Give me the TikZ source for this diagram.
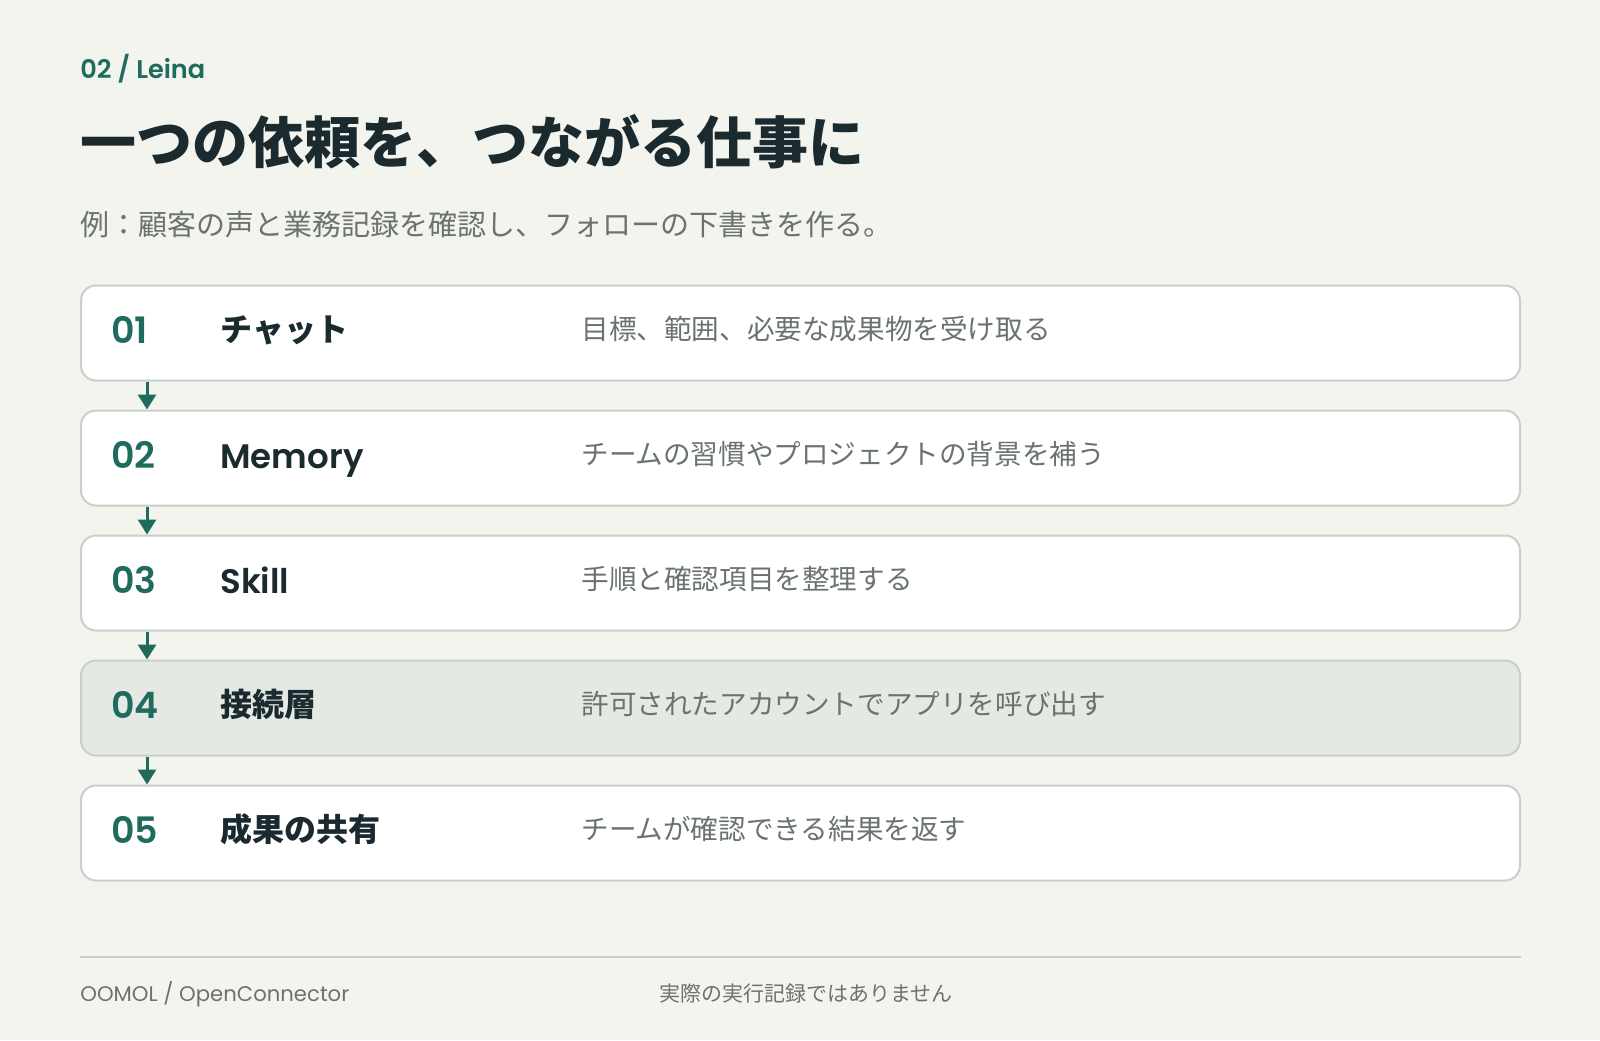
\documentclass[tikz,border=0pt]{standalone}
\usepackage{fontspec}
\usetikzlibrary{arrows.meta,positioning,calc}
\newfontfamily\jp{Noto Sans CJK JP}
\newfontfamily\lat{Poppins}[BoldFont={Poppins SemiBold}]
\definecolor{paper}{HTML}{F4F4EE}
\definecolor{leaf}{HTML}{1F6B5D}
\definecolor{ink}{HTML}{1B2A2F}
\definecolor{slate}{HTML}{6A7371}
\definecolor{rule}{HTML}{C8D0CC}
\definecolor{mist}{HTML}{E4E9E3}
\tikzset{
  card/.style={draw=rule,line width=1pt,fill=white,rounded corners=7.5pt,
    minimum width=719.5pt,minimum height=47.5pt,inner sep=0pt},
  num/.style={anchor=base west,inner sep=0pt,text=leaf,
    font={\lat\bfseries\fontsize{18.2pt}{20pt}\selectfont}},
  jname/.style={anchor=base west,inner sep=0pt,text=ink,
    font={\jp\bfseries\fontsize{16pt}{19pt}\selectfont}},
  lname/.style={anchor=base west,inner sep=0pt,text=ink,
    font={\lat\bfseries\fontsize{17pt}{20pt}\selectfont}},
  note/.style={anchor=base west,inner sep=0pt,text=slate,
    font={\jp\fontsize{13.8pt}{16pt}\selectfont}},
  flow/.style={leaf,line width=1.5pt,-{Triangle[width=9pt,length=7.5pt]}}
}
\begin{document}
\begin{tikzpicture}[x=0.5pt,y=-0.5pt]
\fill [paper] (0,0) rectangle (1600,1040);
\useasboundingbox (0,0) rectangle (1600,1040);
\node [anchor=base west,inner sep=0pt,text=leaf,
   font={\lat\bfseries\fontsize{12.8pt}{15pt}\selectfont}] (lead) at (80,78) {02 / Leina};
\node [anchor=base west,inner sep=0pt,text=ink,
   font={\jp\bfseries\fontsize{28pt}{32pt}\selectfont}] (title) at (80,163) {一つの依頼を、つながる仕事に};
\node [anchor=base west,inner sep=0pt,text=slate,
   font={\jp\fontsize{14.5pt}{17pt}\selectfont}] (sub) at (80,235) {例：顧客の声と業務記録を確認し、フォローの下書きを作る。};

\node [card] (s1) at (800.5,333) {};
\node [card] (s2) at (800.5,458) {};
\node [card] (s3) at (800.5,583) {};
\node [card,fill=mist] (s4) at (800.5,708) {};
\node [card] (s5) at (800.5,833) {};

\node [num] (n1) at ($(s1.west)+(31,10)$) {01};
\node [jname] (t1) at ($(s1.west)+(140,8)$) {チャット};
\node [note] (d1) at ($(s1.west)+(501,6)$) {目標、範囲、必要な成果物を受け取る};
\node [num] (n2) at ($(s2.west)+(31,10)$) {02};
\node [lname] (t2) at ($(s2.west)+(140,10)$) {Memory};
\node [note] (d2) at ($(s2.west)+(501,6)$) {チームの習慣やプロジェクトの背景を補う};
\node [num] (n3) at ($(s3.west)+(31,10)$) {03};
\node [lname] (t3) at ($(s3.west)+(140,10)$) {Skill};
\node [note] (d3) at ($(s3.west)+(501,6)$) {手順と確認項目を整理する};
\node [num] (n4) at ($(s4.west)+(31,10)$) {04};
\node [jname] (t4) at ($(s4.west)+(140,8)$) {接続層};
\node [note] (d4) at ($(s4.west)+(501,6)$) {許可されたアカウントでアプリを呼び出す};
\node [num] (n5) at ($(s5.west)+(31,10)$) {05};
\node [jname] (t5) at ($(s5.west)+(140,8)$) {成果の共有};
\node [note] (d5) at ($(s5.west)+(501,6)$) {チームが確認できる結果を返す};

\draw [flow] ($(s1.south west)+(67,0)$) -- ($(s2.north west)+(67,0)$);
\draw [flow] ($(s2.south west)+(67,0)$) -- ($(s3.north west)+(67,0)$);
\draw [flow] ($(s3.south west)+(67,0)$) -- ($(s4.north west)+(67,0)$);
\draw [flow] ($(s4.south west)+(67,0)$) -- ($(s5.north west)+(67,0)$);

\draw [rule,line width=1pt] (80,957) -- (1521,957);
\node [anchor=base west,inner sep=0pt,text=slate,
   font={\lat\fontsize{10.6pt}{12pt}\selectfont}] (brand) at (80,1001) {OOMOL / OpenConnector};
\node [anchor=base west,inner sep=0pt,text=slate,
   font={\jp\fontsize{10.5pt}{12pt}\selectfont}] (disc) at (659,1001) {実際の実行記録ではありません};
\end{tikzpicture}
\end{document}
